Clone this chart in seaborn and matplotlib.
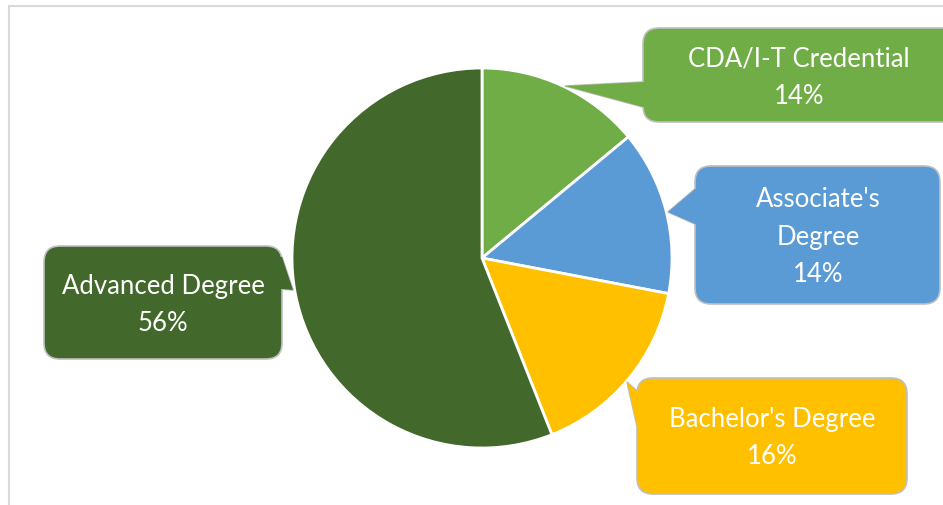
import numpy as np
import seaborn as sns
import matplotlib.pyplot as plt
from matplotlib.patches import FancyBboxPatch, Polygon, Rectangle

sns.set_theme(style="white")
plt.rcParams['font.family'] = ['Lato', 'DejaVu Sans']

categories = ["CDA/I-T Credential", "Associate's\nDegree", "Bachelor's Degree", "Advanced Degree"]
shares = [14, 14, 16, 56]
colors = ["#70AD47", "#5B9BD5", "#FFC000", "#43682B"]

W, H = 943, 506
# callout layout in pixels (top-left origin): box x0, y0, x1, y1, pointer tip, pointer base (y0, y1) on box side
callouts = [
    dict(box=(643, 29, 960, 123), tip=(565, 87), base=(83, 108), side="left", text=(799, 78)),
    dict(box=(695, 167, 940, 305), tip=(668, 213), base=(190, 225), side="left", text=(818, 237)),
    dict(box=(637, 379, 907, 495), tip=(627, 383), base=(392, 427), side="left", text=(772, 438)),
    dict(box=(44, 247, 282, 360), tip=(293, 291), base=(258, 290), side="right", text=(163, 305)),
]

fig = plt.figure(figsize=(W / 100, H / 100), dpi=100)
ax = fig.add_axes([0, 0, 1, 1])

def fy(y):
    return H - y

ax.pie(shares, colors=colors, startangle=90, counterclock=False,
       center=(482, fy(259)), radius=190, frame=True,
       wedgeprops=dict(edgecolor="white", linewidth=2.0, zorder=2))
ax.set_xlim(0, W)
ax.set_ylim(0, H)
ax.set_aspect("equal")
ax.axis("off")

# outer chart frame
ax.add_patch(Rectangle((9, fy(530)), 980, 523, fill=False, edgecolor="#D9D9D9", linewidth=1.5, zorder=1))

for c, lab, pct, col in zip(callouts, categories, shares, colors):
    x0, y0, x1, y1 = c["box"]
    tx, ty = c["tip"]
    b0, b1 = c["base"]
    sx = x0 if c["side"] == "left" else x1
    inner = 8 if c["side"] == "left" else -8
    tri = [(tx, fy(ty)), (sx, fy(b0)), (sx, fy(b1))]
    ax.add_patch(Polygon(tri, closed=True, facecolor=col, edgecolor="#BFBFBF", linewidth=1.2, zorder=3))
    ax.add_patch(FancyBboxPatch((x0, fy(y1)), x1 - x0, y1 - y0,
                                boxstyle="round,pad=0,rounding_size=16",
                                facecolor=col, edgecolor="#BFBFBF", linewidth=1.2, zorder=4))
    cover = [(tx, fy(ty)), (sx, fy(b0)), (sx + inner, fy(b0)), (sx + inner, fy(b1)), (sx, fy(b1))]
    ax.add_patch(Polygon(cover, closed=True, facecolor=col, edgecolor="none", zorder=5))
    ax.text(c["text"][0], fy(c["text"][1]), f"{lab}\n{pct}%", ha="center", va="center",
            color="white", fontsize=18.5, linespacing=1.62, zorder=6)

fig.savefig("out.png", dpi=100)
